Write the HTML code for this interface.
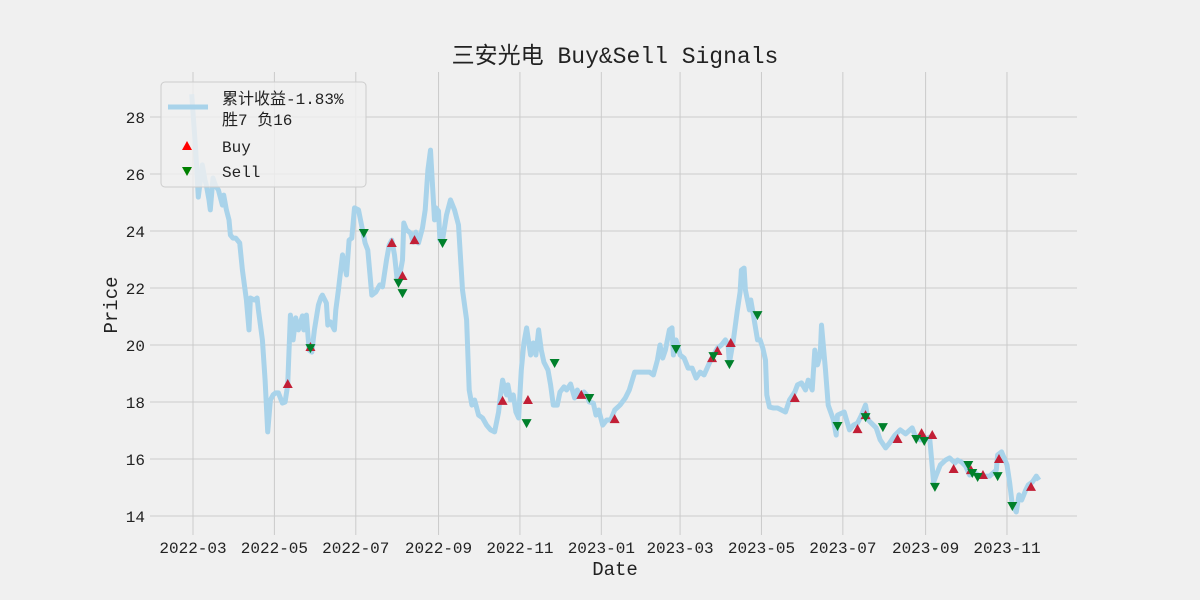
<!DOCTYPE html>
<html><head><meta charset="utf-8"><style>
html,body{margin:0;padding:0;background:#f0f0f0;}
svg{display:block;font-family:"Liberation Mono","Noto Sans CJK SC",monospace;}
</style></head><body>
<svg id="chart" width="1200" height="600" viewBox="0 0 1200 600" xmlns="http://www.w3.org/2000/svg">
<rect x="0" y="0" width="1200" height="600" fill="#f0f0f0"/>
<g id="grid"></g>
<g id="series"></g>
<g id="ticks"></g>
<text x="615" y="63" font-size="23" text-anchor="middle" fill="#222">三安光电 Buy&amp;Sell Signals</text>
<text x="615" y="575" font-size="19" text-anchor="middle" fill="#222">Date</text>
<text x="0" y="0" font-size="19" text-anchor="middle" fill="#222" transform="translate(117,305) rotate(-90)">Price</text>
<g>
<rect x="161" y="82" width="205" height="105" rx="4" fill="#f0f0f0" fill-opacity="0.8" stroke="#cccccc"/>
<line x1="168" y1="107" x2="208" y2="107" stroke="#a9d3ea" stroke-width="5"/>
<text x="222" y="104" font-size="16" fill="#222">累计收益-1.83%</text>
<text x="222" y="125" font-size="16" fill="#222">胜7 负16</text>
<path d="M187,141 L192,150 L182,150 Z" fill="#ff0000"/>
<text x="222" y="152" font-size="16" fill="#222">Buy</text>
<path d="M182,167 L192,167 L187,176 Z" fill="#008000"/>
<text x="222" y="177" font-size="16" fill="#222">Sell</text>
</g>
</svg>
<script>
// day offsets since 2022-03-01, price
const priceDays=[-1,2,4,7,9,10,12,13,15,17,19,22,23,25,27,28,30,32,35,37,40,42,43,46,48,49,52,54,56,58,60,62,64,67,69,71,73,75,77,79,82,83,85,87,89,91,94,96,97,100,101,103,106,107,109,112,115,117,119,121,124,127,129,131,134,137,140,142,145,147,149,151,153,155,157,158,160,163,165,167,169,172,174,176,178,181,182,184,185,187,190,193,196,199,202,205,207,209,211,214,217,220,223,226,229,230,232,235,236,238,240,242,244,246,248,250,253,255,257,259,261,263,266,268,270,273,275,278,280,283,286,288,290,293,295,297,300,302,304,307,310,313,316,320,324,327,331,342,345,348,350,352,354,357,359,360,362,365,368,371,374,377,380,383,387,390,393,396,399,401,402,405,408,410,411,413,414,417,418,420,423,425,427,429,430,432,435,438,444,447,451,453,456,459,461,464,466,468,470,471,474,476,480,482,483,488,492,495,498,501,504,506,509,512,515,519,522,526,530,534,539,541,545,547,552,555,557,560,564,567,571,573,576,579,582,586,590,597,602,603,606,610,612,614,617,619,621,624,626,629,632,634];
const priceValues=[28.8,26.84,25.19,26.32,25.79,25.61,25.09,24.74,25.86,25.58,25.44,24.91,25.26,24.74,24.39,23.86,23.75,23.75,23.58,22.63,21.58,20.53,21.65,21.58,21.65,21.23,20.18,18.77,16.95,18.07,18.25,18.32,18.32,17.96,18.0,18.6,21.05,20.18,20.95,20.53,21.02,20.53,21.05,19.82,19.75,20.53,21.4,21.68,21.75,21.47,20.7,20.81,20.53,21.23,21.93,23.16,22.46,23.68,23.75,24.81,24.74,24.04,23.58,23.33,21.75,21.86,22.11,22.04,22.98,23.51,23.68,23.16,22.28,22.46,22.98,24.28,24.04,23.93,23.61,23.96,23.58,24.11,24.74,26.14,26.84,24.39,24.81,24.7,23.68,23.68,24.56,25.09,24.74,24.21,21.93,20.88,18.42,17.89,18.07,17.54,17.44,17.19,17.02,16.95,17.65,18.07,18.77,18.25,18.6,18.07,18.25,17.65,17.44,19.12,20.07,20.6,19.65,20.07,19.65,20.53,19.82,19.4,19.12,18.6,17.89,17.89,18.35,18.53,18.42,18.63,18.14,18.42,18.21,18.35,18.25,18.0,17.96,17.54,17.72,17.19,17.37,17.37,17.72,17.89,18.14,18.42,19.05,19.05,18.95,19.47,20.0,19.54,19.82,20.53,20.6,19.65,20.18,19.65,19.54,19.19,19.19,18.84,19.05,18.95,19.37,19.65,19.89,20.0,20.18,20.0,19.37,20.18,21.23,21.86,22.63,22.7,21.93,21.23,21.58,21.05,20.18,20.18,19.89,19.47,18.25,17.82,17.79,17.79,17.65,18.07,18.35,18.6,18.67,18.42,18.77,18.42,19.82,19.3,19.65,20.7,19.12,17.89,17.37,16.84,17.54,17.65,17.02,17.19,17.26,17.54,17.89,17.37,17.23,17.09,16.67,16.39,16.56,16.84,17.02,16.88,17.09,16.84,16.67,16.67,16.77,15.19,15.44,15.79,15.96,16.04,15.86,15.96,15.89,15.75,15.44,15.51,15.4,15.4,15.61,16.14,16.25,15.79,15.16,14.39,14.14,14.74,14.56,14.91,15.09,15.19,15.4,15.26];
const buyDays=[71,88,149,157,166,232,251,291,316,389,393,403,451,498,504,528,546,554,570,583,592,604,628];
const buyPrices=[18.63,19.93,23.58,22.42,23.68,18.04,18.07,18.25,17.4,19.54,19.79,20.07,18.14,17.05,17.54,16.7,16.91,16.84,15.65,15.61,15.44,16.0,15.02];
const sellDays=[88,128,154,157,187,250,271,297,362,390,402,423,483,504,517,542,548,556,581,584,588,603,614];
const sellPrices=[19.89,23.93,22.18,21.82,23.58,17.26,19.37,18.14,19.86,19.61,19.33,21.05,17.16,17.47,17.12,16.7,16.63,15.02,15.79,15.51,15.37,15.4,14.35];
const xTickDays=[0,61,122,184,245,306,365,426,487,549,610];
const xTickLabels=["2022-03","2022-05","2022-07","2022-09","2022-11","2023-01","2023-03","2023-05","2023-07","2023-09","2023-11"];
const yTickValues=[14,16,18,20,22,24,26,28];

const NS="http://www.w3.org/2000/svg";
const L=150,R=1077,T=72,B=535;
function xs(d){return 193+d*1.3344;}
function ys(p){return 117+(28-p)*28.5;}
function mk(tag,attrs,parent){const e=document.createElementNS(NS,tag);for(const k in attrs)e.setAttribute(k,attrs[k]);parent.appendChild(e);return e;}
const grid=document.getElementById('grid'),ticks=document.getElementById('ticks'),series=document.getElementById('series');
xTickDays.forEach((d,i)=>{
  const x=xs(d);
  const g=mk('line',{x1:x,y1:T,x2:x,y2:B,stroke:'#cbcbcb','stroke-width':1},grid);
  
  
  const t=mk('text',{x:x,y:553,'font-size':16,'text-anchor':'middle',fill:'#222'},ticks);
  t.textContent=xTickLabels[i];
  
  
});
yTickValues.forEach(v=>{
  const y=ys(v);
  const g=mk('line',{x1:L,y1:y,x2:R,y2:y,stroke:'#cbcbcb','stroke-width':1},grid);
  
  
  const t=mk('text',{x:145,y:y+6,'font-size':16,'text-anchor':'end',fill:'#222'},ticks);
  t.textContent=String(v);
  
  
});
let dstr=priceDays.map((d,i)=>(i?'L':'M')+xs(d).toFixed(1)+','+ys(priceValues[i]).toFixed(1)).join(' ');
const line=mk('path',{d:dstr,fill:'none',stroke:'#a9d3ea','stroke-width':5,'stroke-linejoin':'round'},series);


buyDays.forEach((d,i)=>{
  const x=xs(d),y=ys(buyPrices[i]);
  const m=mk('path',{d:`M${x},${y-5} L${x+5},${y+4} L${x-5},${y+4} Z`,fill:'#c21f36'},series);
  
  
});
sellDays.forEach((d,i)=>{
  const x=xs(d),y=ys(sellPrices[i]);
  const m=mk('path',{d:`M${x-5},${y-4} L${x+5},${y-4} L${x},${y+5} Z`,fill:'#00802b'},series);
  
  
});
</script>
</body></html>
